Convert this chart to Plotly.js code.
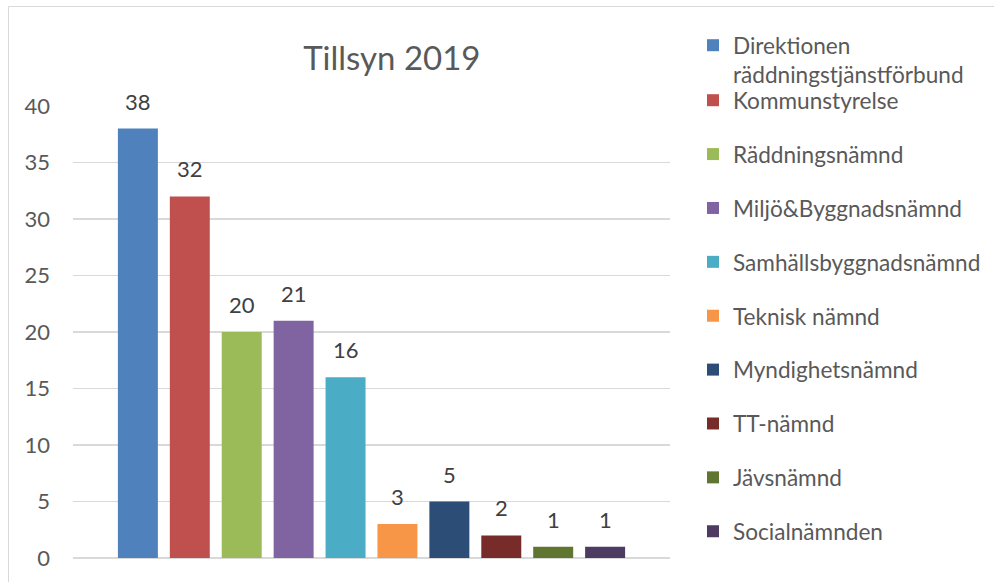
<!DOCTYPE html>
<html>
<head>
<meta charset="utf-8">
<script src="https://cdn.plot.ly/plotly-3.0.1.min.js"></script>
<style>html,body{margin:0;padding:0;background:#fff;}#chart{width:994px;height:582px;}</style>
</head>
<body>
<div id="chart"></div>
<script>
const chartTitle = "Tillsyn 2019";
const seriesNames = [
  "Direktionen<br>räddningstjänstförbund",
  "Kommunstyrelse",
  "Räddningsnämnd",
  "Miljö&Byggnadsnämnd",
  "Samhällsbyggnadsnämnd",
  "Teknisk nämnd",
  "Myndighetsnämnd",
  "TT-nämnd",
  "Jävsnämnd",
  "Socialnämnden"
];
const seriesValues = [38, 32, 20, 21, 16, 3, 5, 2, 1, 1];
const seriesColors = ["#4F81BD", "#C0504D", "#9BBB59", "#8064A2", "#4BACC6",
                      "#F79646", "#2C4D75", "#772C2A", "#5F7530", "#4D3B62"];
const yTickValues = [0, 5, 10, 15, 20, 25, 30, 35, 40];

const FONT = "Lato, 'Open Sans', sans-serif";
const traces = seriesNames.map((name, i) => ({
  type: "bar",
  name: name,
  x: ["c" + i],
  y: [seriesValues[i]],
  marker: { color: seriesColors[i], line: { width: 0 } },
  legend: i === 0 ? "legend" : "legend2",
  legendgroup: "g" + i,
  hoverinfo: "none"
}));

const annotations = seriesValues.map((v, i) => ({
  x: "c" + i, y: v, xref: "x", yref: "y",
  text: String(v), showarrow: false,
  yanchor: "bottom", yshift: 12,
  font: { family: FONT, size: 22, color: "#404040" }
}));

const layout = {
  width: 994, height: 582,
  margin: { l: 73, r: 324, t: 106, b: 24, pad: 0, autoexpand: false },
  paper_bgcolor: "#ffffff", plot_bgcolor: "#ffffff",
  barmode: "overlay",
  bargap: 0.23,
  showlegend: true,
  title: {
    text: chartTitle,
    font: { family: FONT, size: 33, color: "#595959" },
    xref: "paper", x: 0.534, xanchor: "center",
    yref: "container", y: 0.9, yanchor: "middle"
  },
  xaxis: {
    type: "category",
    range: [-1.25, 10.25],
    showticklabels: false, showgrid: false, zeroline: false,
    showline: false, ticks: "", fixedrange: true
  },
  yaxis: {
    range: [0, 40], tickvals: yTickValues,
    showgrid: true, gridcolor: "#d9d9d9", gridwidth: 1.5,
    zeroline: true, zerolinecolor: "#d9d9d9", zerolinewidth: 1.5,
    showline: false, ticks: "", ticklabelstandoff: 22,
    tickfont: { family: FONT, size: 22, color: "#595959" },
    fixedrange: true
  },
  legend: {
    x: 1.0385, xanchor: "left", y: 1.1814, yanchor: "top",
    valign: "top", bgcolor: "rgba(0,0,0,0)",
    font: { family: FONT, size: 22.6, color: "#595959" },
    tracegroupgap: 0, traceorder: "normal"
  },
  legend2: {
    x: 1.0385, xanchor: "left", y: 1.0597, yanchor: "top",
    valign: "middle", bgcolor: "rgba(0,0,0,0)",
    font: { family: FONT, size: 22.6, color: "#595959" },
    tracegroupgap: 21.5, traceorder: "grouped", maxheight: 560
  },
  annotations: annotations,
  shapes: [{
    type: "rect", xref: "paper", yref: "paper",
    x0: -0.108, x1: 1.7, y0: -0.2, y1: 1.2201,
    line: { color: "#d9d9d9", width: 1 }, fillcolor: "rgba(0,0,0,0)", layer: "below"
  }]
};

Plotly.newPlot("chart", traces, layout, { displayModeBar: false, staticPlot: true });
</script>
</body>
</html>
